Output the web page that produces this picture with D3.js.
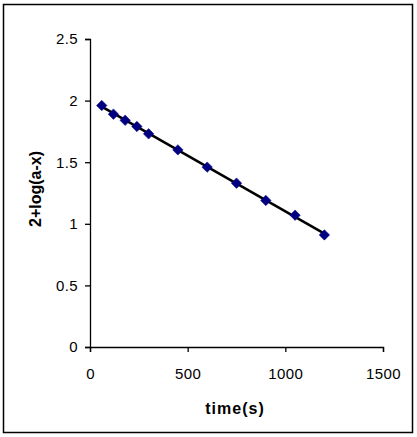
<!DOCTYPE html>
<html>
<head>
<meta charset="utf-8">
<script src="https://cdn.jsdelivr.net/npm/d3@7"></script>
<style>
  body { margin: 0; background: #fff; }
  text { font-family: "Liberation Sans", Arial, sans-serif; }
</style>
</head>
<body>
<svg></svg>
<script>
width = 417;
height = 437;

// data
times = [60, 120, 180, 240, 300, 450, 600, 750, 900, 1050, 1200];
values = [1.96, 1.89, 1.84, 1.79, 1.73, 1.60, 1.46, 1.33, 1.19, 1.07, 0.91];
xTicks = [0, 500, 1000, 1500];
yTicks = [0, 0.5, 1, 1.5, 2, 2.5];

svg = d3.select('svg')
  .attr('width', width)
  .attr('height', height);

// outer frame
svg.append('rect')
  .attr('x', 3.5).attr('y', 4.5)
  .attr('width', 409).attr('height', 428)
  .attr('fill', 'none')
  .attr('stroke', '#000')
  .attr('stroke-width', 1.5);

x = d3.scaleLinear().domain([0, 1500]).range([90, 383]);
y = d3.scaleLinear().domain([0, 2.5]).range([347, 39]);

xAxis = svg.append('g')
  .attr('transform', `translate(0,${y(0)})`)
  .call(d3.axisBottom(x).tickValues(xTicks).tickSize(5).tickPadding(16).tickFormat(d3.format('d')));
yAxis = svg.append('g')
  .attr('transform', `translate(${x(0)},0)`)
  .call(d3.axisLeft(y).tickValues(yTicks).tickSize(5).tickPadding(7).tickFormat(d => d));

[xAxis, yAxis].forEach(g => {
  g.select('.domain').attr('stroke', '#000').attr('stroke-width', 1.3);
  g.selectAll('.tick line').attr('stroke', '#000').attr('stroke-width', 1.3);
  g.selectAll('.tick text')
    .attr('fill', '#000')
    .style('font-size', '15px')
    .style('letter-spacing', '0.4px')
    .style('font-family', '"Liberation Sans", Arial, sans-serif');
});

// axis titles
svg.append('text')
  .attr('x', 235).attr('y', 414)
  .attr('text-anchor', 'middle')
  .style('font-size', '16px')
  .style('font-weight', 'bold')
  .style('letter-spacing', '1px')
  .text('time(s)');

svg.append('text')
  .attr('transform', 'translate(41,189) rotate(-90)')
  .attr('text-anchor', 'middle')
  .style('font-size', '16px')
  .style('font-weight', 'bold')
  .text('2+log(a-x)');

// linear trendline fitted to the points
data = times.map((t, i) => ({ t: t, v: values[i] }));
mx = d3.mean(data, d => d.t);
my = d3.mean(data, d => d.v);
slope = d3.sum(data, d => (d.t - mx) * (d.v - my)) / d3.sum(data, d => (d.t - mx) * (d.t - mx));
icpt = my - slope * mx;
ext = d3.extent(times);

svg.append('line')
  .attr('x1', x(ext[0])).attr('y1', y(icpt + slope * ext[0]))
  .attr('x2', x(ext[1])).attr('y2', y(icpt + slope * ext[1]))
  .attr('stroke', '#000')
  .attr('stroke-width', 2.5);

svg.selectAll('path.pt')
  .data(data)
  .enter().append('path')
  .attr('class', 'pt')
  .attr('d', d3.symbol().type(d3.symbolDiamond2).size(70))
  .attr('transform', d => `translate(${x(d.t)},${y(d.v)})`)
  .attr('fill', '#000080')
  .attr('stroke', '#000080')
  .attr('stroke-width', 0.5);
</script>
</body>
</html>
